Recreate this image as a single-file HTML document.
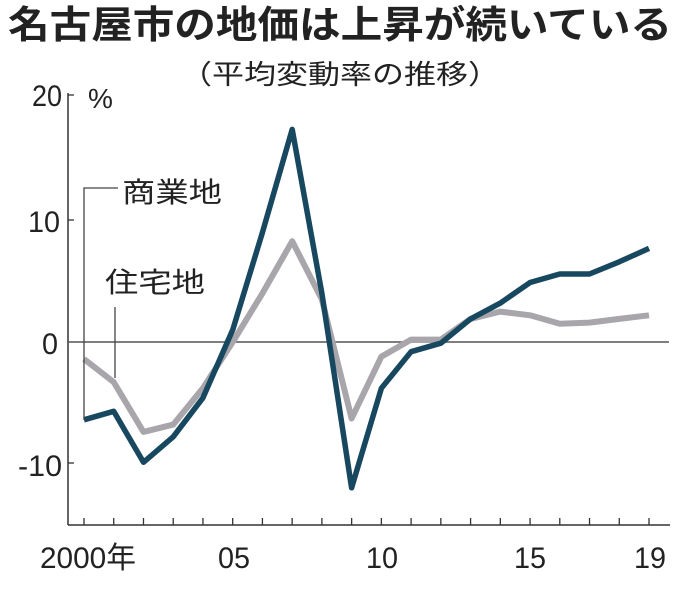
<!DOCTYPE html>
<html><head><meta charset="utf-8"><style>
body{margin:0;background:#fff;width:680px;height:585px;overflow:hidden}
svg text{font-family:"Liberation Sans","Noto Sans CJK JP",sans-serif;fill:#222}
</style></head><body>
<svg width="680" height="585" viewBox="0 0 680 585">
<text x="8" y="38" font-size="38" font-weight="bold" fill="#111" textLength="664" lengthAdjust="spacingAndGlyphs">名古屋市の地価は上昇が続いている</text>
<text x="180" y="84" font-size="27" textLength="320" lengthAdjust="spacingAndGlyphs">（平均変動率の推移）</text>
<g font-size="30">
<text x="32" y="106" textLength="30" lengthAdjust="spacingAndGlyphs">20</text>
<text x="28" y="232" textLength="32" lengthAdjust="spacingAndGlyphs">10</text>
<text x="42" y="354" textLength="16" lengthAdjust="spacingAndGlyphs">0</text>
<text x="18" y="476" textLength="44" lengthAdjust="spacingAndGlyphs">-10</text>
</g>
<text x="88" y="108" font-size="28">%</text>
<line x1="68" y1="93" x2="68" y2="525" stroke="#333" stroke-width="1.5"/>
<line x1="68" y1="525" x2="670" y2="525" stroke="#333" stroke-width="1.5"/>
<g stroke="#333" stroke-width="1.3">
<line x1="68" y1="95" x2="74" y2="95"/><line x1="68" y1="220" x2="74" y2="220"/><line x1="68" y1="463" x2="74" y2="463"/>
</g>
<line x1="68" y1="342" x2="669" y2="342" stroke="#555" stroke-width="1.5"/>
<g id="t" stroke="#333" stroke-width="1.3"></g>
<g font-size="30">
<text x="40" y="568" textLength="96" lengthAdjust="spacingAndGlyphs">2000年</text>
<text x="218" y="568" textLength="32" lengthAdjust="spacingAndGlyphs">05</text>
<text x="366" y="568" textLength="32" lengthAdjust="spacingAndGlyphs">10</text>
<text x="514" y="568" textLength="32" lengthAdjust="spacingAndGlyphs">15</text>
<text x="634" y="568" textLength="32" lengthAdjust="spacingAndGlyphs">19</text>
</g>
<polyline id="r" fill="none" stroke="#a9a6ab" stroke-width="6" stroke-linejoin="round"/>
<polyline id="c" fill="none" stroke="#17485f" stroke-width="5.5" stroke-linejoin="round"/>
<polyline points="84,420 84,188 118,188" fill="none" stroke="#444" stroke-width="1.3"/>
<line x1="115" y1="307" x2="115" y2="378" stroke="#444" stroke-width="1.3"/>
<text x="122" y="202" font-size="28" textLength="100" lengthAdjust="spacingAndGlyphs">商業地</text>
<text x="105" y="292" font-size="28" textLength="100" lengthAdjust="spacingAndGlyphs">住宅地</text>
</svg>
<script>
var x0=84,dx=(649-84)/19,z=342,k=12.15;
var c=[-6.4,-5.7,-9.9,-7.8,-4.6,1,9,17.5,4,-12,-3.8,-0.8,-0.1,1.9,3.2,4.9,5.6,5.6,6.6,7.7];
var r=[-1.4,-3.3,-7.4,-6.8,-3.8,0,4,8.3,3.5,-6.3,-1.2,0.2,0.2,1.9,2.5,2.2,1.5,1.6,1.9,2.2];
function p(a){return a.map(function(v,i){return (x0+i*dx).toFixed(1)+","+(z-v*k).toFixed(1)}).join(" ")}
document.getElementById("c").setAttribute("points",p(c));
document.getElementById("r").setAttribute("points",p(r));
var g=document.getElementById("t"),s="";
for(var i=0;i<20;i++){var x=x0+i*dx;s+='<line x1="'+x+'" y1="518" x2="'+x+'" y2="525"/>';}
g.innerHTML=s;
</script>
</body></html>
